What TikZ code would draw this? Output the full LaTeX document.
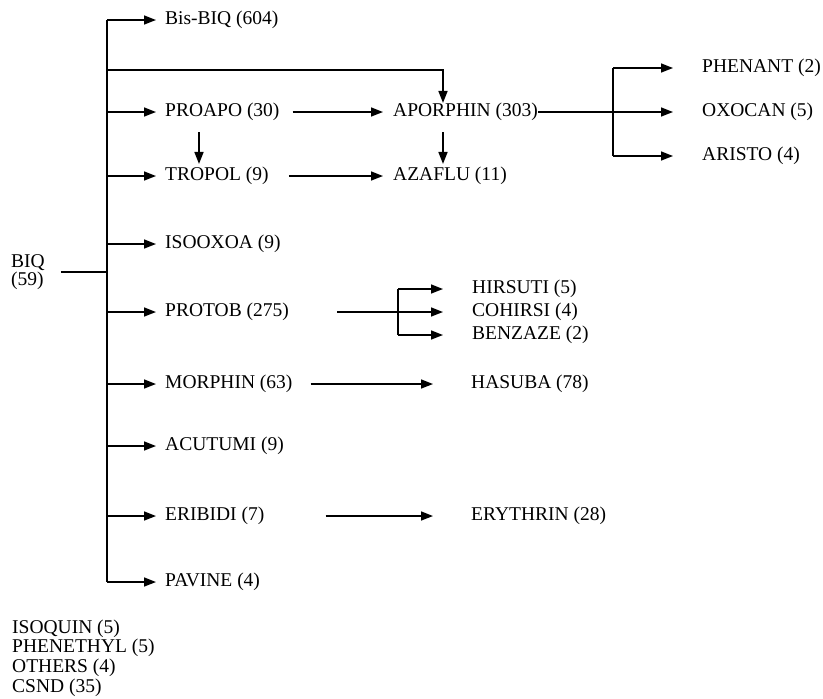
\documentclass[tikz,border=0pt]{standalone}
\usepackage{fontspec}
\setmainfont{Liberation Serif}
\usetikzlibrary{arrows.meta}

\begin{document}
\begin{tikzpicture}[
    x=1pt, y=-1pt,
    class/.style={anchor=west, inner sep=0pt, align=left, font=\fontsize{19.5}{19.7}\selectfont},
    spine/.style={line width=2pt},
    link/.style={line width=1.6pt},
    arrow/.style={link, -{Triangle[length=12pt, width=9pt]}}
  ]
  \useasboundingbox[fill=white] (0,0) rectangle (823,699);

  \node[class] (biq) at (11,272) {BIQ\\[-1.2pt](59)};
  \node[class] (bis) at (165,20) {Bis-BIQ (604)};
  \node[class] (proapo) at (165,112) {PROAPO (30)};
  \node[class] (tropol) at (165,176) {TROPOL (9)};
  \node[class] (isooxoa) at (165,244) {ISOOXOA (9)};
  \node[class] (protob) at (165,312) {PROTOB (275)};
  \node[class] (morphin) at (165,384) {MORPHIN (63)};
  \node[class] (acutumi) at (165,446) {ACUTUMI (9)};
  \node[class] (eribidi) at (165,516) {ERIBIDI (7)};
  \node[class] (pavine) at (165,582) {PAVINE (4)};

  \node[class] (aporphin) at (393,112) {APORPHIN (303)};
  \node[class] (azaflu) at (393,176) {AZAFLU (11)};
  \node[class] (phenant) at (702,68) {PHENANT (2)};
  \node[class] (oxocan) at (702,112) {OXOCAN (5)};
  \node[class] (aristo) at (702,156) {ARISTO (4)};
  \node[class] (hirsuti) at (472,289) {HIRSUTI (5)};
  \node[class] (cohirsi) at (472,312) {COHIRSI (4)};
  \node[class] (benzaze) at (472,335) {BENZAZE (2)};
  \node[class] (hasuba) at (471,384) {HASUBA (78)};
  \node[class] (erythrin) at (471,516) {ERYTHRIN (28)};

  \node[class] (minor) at (12,658) {ISOQUIN (5)\\PHENETHYL (5)\\OTHERS (4)\\CSND (35)};

  \coordinate (stem) at (107,0);
  \coordinate (drop) at (443,70);
  \coordinate (pdrop) at (199,0);
  \coordinate (asplit) at (613,0);
  \coordinate (psplit) at (398,0);

  \draw[link, shorten <=16pt] (biq.east) -- (biq -| stem);
  \draw[spine] (stem |- bis) -- (stem |- pavine);
  \foreach \n in {bis, proapo, tropol, isooxoa, protob, morphin, acutumi, eribidi, pavine}
    \draw[arrow, shorten >=9pt] (stem |- \n) -- (\n.west);

  \draw[arrow] (stem |- drop) -| (aporphin.north -| drop);
  \draw[arrow, shorten <=11pt, shorten >=3pt] (proapo.south -| pdrop) -- (tropol.north -| pdrop);
  \draw[arrow, shorten <=11pt, shorten >=3pt] (aporphin.south -| drop) -- (azaflu.north -| drop);
  \draw[arrow, shorten <=13pt, shorten >=10pt] (proapo) -- (aporphin);
  \draw[arrow, shorten <=20pt, shorten >=10pt] (tropol) -- (azaflu);

  \draw[arrow, shorten >=29pt] (aporphin) -- (oxocan);
  \draw[link] (asplit |- phenant) -- (asplit |- aristo);
  \draw[arrow, shorten >=29pt] (asplit |- phenant) -- (phenant);
  \draw[arrow, shorten >=29pt] (asplit |- aristo) -- (aristo);

  \draw[arrow, shorten <=48pt, shorten >=29pt] (protob) -- (cohirsi);
  \draw[link] (psplit |- hirsuti) -- (psplit |- benzaze);
  \draw[arrow, shorten >=29pt] (psplit |- hirsuti) -- (hirsuti);
  \draw[arrow, shorten >=29pt] (psplit |- benzaze) -- (benzaze);

  \draw[arrow, shorten <=18pt, shorten >=38pt] (morphin) -- (hasuba);
  \draw[arrow, shorten <=61pt, shorten >=38pt] (eribidi) -- (erythrin);
\end{tikzpicture}
\end{document}
